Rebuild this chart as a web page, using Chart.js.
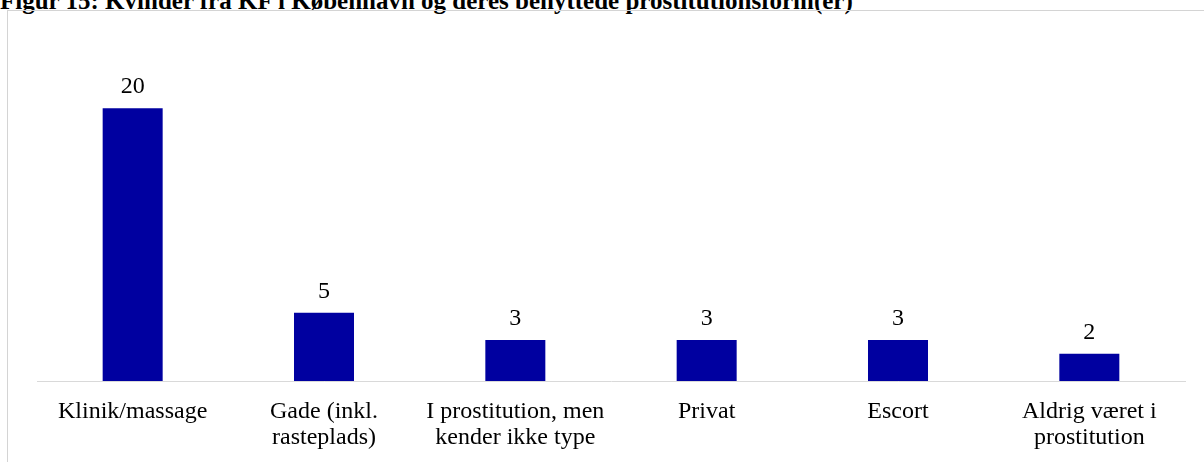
<!DOCTYPE html>
<html>
<head>
<meta charset="utf-8">
<script src="https://cdn.jsdelivr.net/npm/chart.js@4.4.1/dist/chart.umd.min.js"></script>
<style>
  html, body { margin: 0; padding: 0; background: #fff; overflow: hidden; }
  body { width: 1204px; height: 462px; position: relative; }
  #title { position: absolute; left: 0; top: -12px; font-family: "Liberation Serif", "Times New Roman", serif; font-weight: bold; font-size: 25px; line-height: 25px; color: #000; white-space: nowrap; }
  #box { position: absolute; left: 7px; top: 10px; width: 1210px; height: 470px; border-left: 1px solid #d4d4d4; border-top: 1px solid #d4d4d4; }
  #c { position: absolute; left: 0; top: 0; }
</style>
</head>
<body>
<div id="title">Figur 15: Kvinder fra KF i København og deres benyttede prostitutionsform(er)</div>
<div id="box"></div>
<canvas id="c" width="1204" height="462"></canvas>
<script>
const categories = [
  ["Klinik/massage"],
  ["Gade (inkl.", "rasteplads)"],
  ["I prostitution, men", "kender ikke type"],
  ["Privat"],
  ["Escort"],
  ["Aldrig været i", "prostitution"]
];
const counts = [20, 5, 3, 3, 3, 2];
const yMin = 0;
const yMax = 22;

const FONT = '"Liberation Serif", "Times New Roman", serif';

const valueLabels = {
  id: 'valueLabels',
  afterDatasetsDraw(chart) {
    const ctx = chart.ctx;
    const meta = chart.getDatasetMeta(0);
    ctx.save();
    ctx.font = '24px ' + FONT;
    ctx.fillStyle = '#000';
    ctx.textAlign = 'center';
    ctx.textBaseline = 'alphabetic';
    meta.data.forEach((bar, i) => {
      ctx.fillText(String(chart.data.datasets[0].data[i]), bar.x, bar.y - 15);
    });
    ctx.restore();
  }
};

new Chart(document.getElementById('c'), {
  type: 'bar',
  data: {
    labels: categories,
    datasets: [{
      data: counts,
      backgroundColor: '#0000a0',
      borderWidth: 0,
      categoryPercentage: 1,
      barPercentage: 0.3136
    }]
  },
  options: {
    responsive: false,
    devicePixelRatio: 1,
    animation: false,
    layout: { padding: { left: 37, right: 19, top: 81, bottom: 11 } },
    plugins: { legend: { display: false }, tooltip: { enabled: false }, title: { display: false } },
    scales: {
      x: {
        grid: { display: false, drawTicks: false },
        border: { display: true, color: '#d9d9d9', width: 1 },
        afterFit(scale) { scale.height = 70; },
        ticks: {
          color: '#000',
          padding: 18,
          maxRotation: 0,
          autoSkip: false,
          font: { family: FONT, size: 24, lineHeight: '26px' }
        }
      },
      y: { display: false, min: yMin, max: yMax }
    }
  },
  plugins: [valueLabels]
});
</script>
</body>
</html>
